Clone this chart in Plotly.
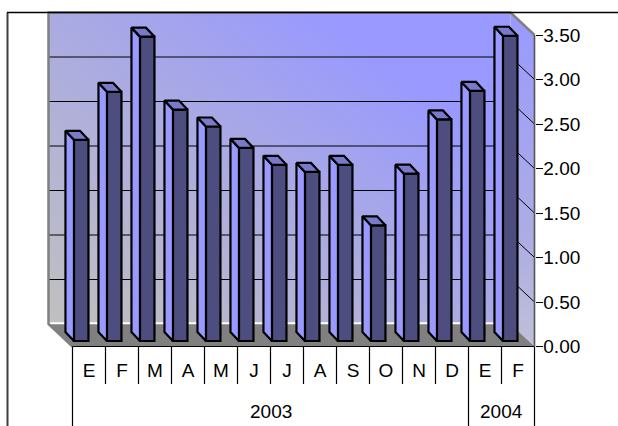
import numpy as np
import plotly.graph_objects as go

months = ["E", "F", "M", "A", "M", "J", "J", "A", "S", "O", "N", "D", "E", "F"]
values = [2.26, 2.80, 3.42, 2.60, 2.41, 2.17, 1.98, 1.90, 1.98, 1.30, 1.88, 2.49, 2.81, 3.43]
years = ["2003", "2004"]
year_spans = [(0, 12), (12, 14)]
y_ticks = [0, 0.5, 1, 1.5, 2, 2.5, 3, 3.5]
y_labels = ["0.00", "0.50", "1.00", "1.50", "2.00", "2.50", "3.00", "3.50"]

W, H = 618, 426
X0, XS = 72.5, 33.0
Y0, YS = 346.5, 89.0
x_range = [(0 - X0) / XS, (W - X0) / XS]
y_range = [(Y0 - H) / YS, (Y0 - 0) / YS]
n = len(months)

wall_dx = -24 / XS
wall_dy = 22.5 / YS
top_v = 3.5
bar_off = 0.264
bar_w = 14.5 / XS
bar_base = 5.5 / YS
bar_dx = -8.5 / XS
bar_dy = 9 / YS

FONT = "Liberation Sans"
FS = 19
fig = go.Figure()

# back wall gradient
xe = np.linspace(wall_dx, n + wall_dx, 41)
ye = np.linspace(wall_dy, top_v + wall_dy, 41)
xc = (xe[:-1] + xe[1:]) / 2
yc = (ye[:-1] + ye[1:]) / 2
u = (xc - xc[0]) / (xc[-1] - xc[0])
v = (yc - yc[0]) / (yc[-1] - yc[0])
z = np.clip(u[None, :] * 0.6 + v[:, None] * 0.55 + (u[None, :] * v[:, None]) * 0.15, 0, 1)
fig.add_trace(go.Heatmap(x=xc, y=yc, z=z, zsmooth="best", zmin=0, zmax=1, showscale=False,
                         hoverinfo="skip",
                         colorscale=[[0, "#c0c0c0"], [1, "#9999ff"]]))

# right wall
fig.add_trace(go.Scatter(
    x=[n + wall_dx, n, n, n + wall_dx, n + wall_dx],
    y=[wall_dy + top_v, top_v, 0, wall_dy, wall_dy + top_v],
    mode="lines", line=dict(width=0), fill="toself",
    fillgradient=dict(type="vertical", colorscale=[[0, "#c0c0d8"], [0.3, "#aeaee2"], [1, "#9999ff"]]),
    hoverinfo="skip", showlegend=False))

# floor
fig.add_trace(go.Scatter(
    x=[wall_dx, n + wall_dx, n, 0, wall_dx],
    y=[wall_dy, wall_dy, 0, 0, wall_dy],
    mode="lines", line=dict(width=0), fill="toself", fillcolor="#808080",
    hoverinfo="skip", showlegend=False))
fig.add_trace(go.Scatter(x=[wall_dx, n + wall_dx], y=[wall_dy + 0.008] * 2, mode="lines",
                         line=dict(color="#ffffff", width=2), hoverinfo="skip", showlegend=False))

# gridlines on the walls
gx, gy = [], []
for t in y_ticks[1:-1]:
    gx += [wall_dx, n + wall_dx, n, None]
    gy += [t + wall_dy, t + wall_dy, t, None]
fig.add_trace(go.Scatter(x=gx, y=gy, mode="lines", line=dict(color="#000000", width=1),
                         hoverinfo="skip", showlegend=False))

# wall edges
fig.add_trace(go.Scatter(
    x=[0, wall_dx, wall_dx, n + wall_dx, n],
    y=[0, wall_dy, top_v + wall_dy, top_v + wall_dy, top_v],
    mode="lines", line=dict(color="#808080", width=2.5), hoverinfo="skip", showlegend=False))

# axis lines and separators
sx, sy = [0, n, None], [0, 0, None]
low = y_range[0]
for i in range(n + 1):
    bottom = low if i in (0, 12, 14) else -37.5 / YS
    sx += [i, i, None]
    sy += [0, bottom, None]
fig.add_trace(go.Scatter(x=sx, y=sy, mode="lines", line=dict(color="#000000", width=1.2),
                         hoverinfo="skip", showlegend=False))
fig.add_trace(go.Scatter(x=[n, n], y=[0, top_v], mode="lines", line=dict(color="#555555", width=1.6),
                         hoverinfo="skip", showlegend=False))

# bars, in an overlaid subplot so they sit over the walls
pos = [i + bar_off for i in range(n)]
fig.add_trace(go.Bar(x=pos, y=values, base=bar_base, width=bar_w, xaxis="x2", yaxis="y2",
                     marker=dict(color="#4d4d80", line=dict(color="#000000", width=2.2)),
                     showlegend=False))
for p, val in zip(pos, values):
    l, r = p - bar_w / 2, p + bar_w / 2
    t = bar_base + val
    side_x = [l, l, l + bar_dx, l + bar_dx, l]
    side_y = [bar_base, t, t + bar_dy, bar_base + bar_dy, bar_base]
    top_x = [l, r, r + bar_dx, l + bar_dx, l]
    top_y = [t, t, t + bar_dy, t + bar_dy, t]
    for fx, fy, col in [(side_x, side_y, "#9999ff"), (top_x, top_y, "#7a7acc")]:
        fig.add_trace(go.Scatter(x=fx, y=fy, mode="lines", fill="toself", fillcolor=col,
                                 line=dict(color="#000000", width=2.2), xaxis="x2", yaxis="y2",
                                 hoverinfo="skip", showlegend=False))

fig.update_layout(
    width=W, height=H, margin=dict(l=0, r=0, t=0, b=0),
    paper_bgcolor="#ffffff", plot_bgcolor="rgba(0,0,0,0)",
    font=dict(family=FONT, size=FS, color="#000000"),
    showlegend=False,
    xaxis=dict(range=x_range, domain=[0, 1], showgrid=False, zeroline=False, showline=False,
               tickmode="array", tickvals=[i + 0.5 for i in range(n)], ticktext=months, ticks="",
               anchor="free", position=(H - Y0) / H, side="bottom", ticklabelstandoff=10,
               tickangle=0, tickfont=dict(family=FONT, size=FS)),
    yaxis=dict(range=y_range, domain=[0, 1], showgrid=False, zeroline=False, showline=False,
               tickmode="array", tickvals=y_ticks, ticktext=y_labels, ticks="outside", ticklen=7,
               tickcolor="#000000", tickwidth=1.2, anchor="free", ticklabelstandoff=-3,
               position=(X0 + n * XS) / W, side="right", tickfont=dict(family=FONT, size=FS)),
    xaxis2=dict(range=x_range, overlaying="x", visible=False, anchor="y2"),
    yaxis2=dict(range=y_range, overlaying="y", visible=False, anchor="x2"),
    annotations=[
        dict(x=(a + b) / 2, y=-64.5 / YS, xref="x", yref="y", text=t, showarrow=False,
             font=dict(family=FONT, size=FS, color="#000000"))
        for t, (a, b) in zip(years, year_spans)
    ],
    shapes=[
        dict(type="line", xref="paper", yref="paper", x0=7.5 / W, x1=7.5 / W, y0=0, y1=1 - 12.5 / H,
             line=dict(color="#404040", width=2), layer="above"),
        dict(type="line", xref="paper", yref="paper", x0=7 / W, x1=1, y0=1 - 12.5 / H, y1=1 - 12.5 / H,
             line=dict(color="#000000", width=1.5), layer="above"),
    ],
)
fig.write_html("out.html", config=dict(displayModeBar=False),
               post_script="document.body.style.margin='0';document.documentElement.style.overflow='hidden';")
